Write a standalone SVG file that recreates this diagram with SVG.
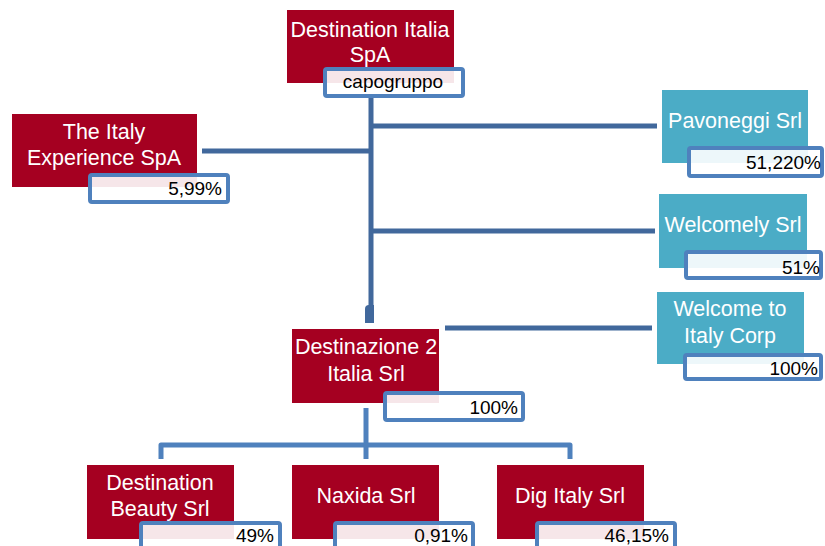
<svg xmlns="http://www.w3.org/2000/svg" width="825" height="546" viewBox="0 0 825 546">
<style>
.red{fill:#a50021}
.cyan{fill:#4bacc6}
.lbl{fill:#ffffff;fill-opacity:0.9;stroke:#4f81bd;stroke-width:4}
.t{font-family:"Liberation Sans",Arial,sans-serif;font-size:21.5px;fill:#ffffff;text-anchor:middle}
.p{font-family:"Liberation Sans",Arial,sans-serif;font-size:19px;fill:#000000;text-anchor:end}
.c1{stroke:#41689c;stroke-width:5;fill:none}
.c2{stroke:#4f81bd;stroke-width:5;fill:none;stroke-linejoin:round}
</style>
<g id="connectors">
<path class="c1" d="M371,98 V307"/>
<path d="M365,309 Q365,305 369,305 H374 V323 H365 Z" fill="#41689c"/>
<path class="c1" d="M371,126 H657"/>
<path class="c1" d="M202,151 H371"/>
<path class="c1" d="M371,231 H655"/>
<path class="c1" d="M445,328 H652"/>
<path class="c2" d="M366,408 V445"/>
<path class="c2" d="M161,459 V445 H570 V459"/>
<path class="c2" d="M366,445 V459"/>
</g>
<g id="destination-italia">
<rect class="red" x="287" y="10" width="167" height="73"/>
<text class="t" x="370" y="37">Destination Italia</text>
<text class="t" x="370" y="62">SpA</text>
<rect class="lbl" x="325" y="69" width="138" height="27" rx="2"/>
<text class="p" x="393" y="88" style="text-anchor:middle">capogruppo</text>
</g>
<g id="italy-experience">
<rect class="red" x="12" y="114" width="185" height="73"/>
<text class="t" x="104" y="139">The Italy</text>
<text class="t" x="104" y="165">Experience SpA</text>
<rect class="lbl" x="90" y="175" width="138" height="27" rx="2"/>
<text class="p" x="222" y="195">5,99%</text>
</g>
<g id="pavoneggi">
<rect class="cyan" x="662" y="90" width="146" height="73"/>
<text class="t" x="735" y="128">Pavoneggi Srl</text>
<rect class="lbl" x="689" y="148" width="133" height="28" rx="2"/>
<text class="p" x="821" y="169">51,220%</text>
</g>
<g id="welcomely">
<rect class="cyan" x="659" y="194" width="148" height="74"/>
<text class="t" x="733" y="232">Welcomely Srl</text>
<rect class="lbl" x="686" y="252" width="135" height="26" rx="2"/>
<text class="p" x="820" y="274">51%</text>
</g>
<g id="welcome-to-italy">
<rect class="cyan" x="657" y="292" width="147" height="72"/>
<text class="t" x="730" y="316">Welcome to</text>
<text class="t" x="730" y="343">Italy Corp</text>
<rect class="lbl" x="685" y="355" width="136" height="24" rx="2"/>
<text class="p" x="818" y="375">100%</text>
</g>
<g id="destinazione-2">
<rect class="red" x="292" y="329" width="147" height="74"/>
<text class="t" x="366" y="354">Destinazione 2</text>
<text class="t" x="366" y="381">Italia Srl</text>
<rect class="lbl" x="385" y="393" width="138" height="27" rx="2"/>
<text class="p" x="518" y="414">100%</text>
</g>
<g id="destination-beauty">
<rect class="red" x="87" y="465" width="147" height="74"/>
<text class="t" x="160" y="490">Destination</text>
<text class="t" x="160" y="516">Beauty Srl</text>
<rect class="lbl" x="141" y="523" width="139" height="30" rx="2"/>
<text class="p" x="274" y="542">49%</text>
</g>
<g id="naxida">
<rect class="red" x="292" y="465" width="147" height="74"/>
<text class="t" x="366" y="503">Naxida Srl</text>
<rect class="lbl" x="335" y="523" width="138" height="30" rx="2"/>
<text class="p" x="468" y="542">0,91%</text>
</g>
<g id="dig-italy">
<rect class="red" x="497" y="465" width="147" height="74"/>
<text class="t" x="570" y="503">Dig Italy Srl</text>
<rect class="lbl" x="537" y="523" width="138" height="30" rx="2"/>
<text class="p" x="669" y="542">46,15%</text>
</g>
</svg>
